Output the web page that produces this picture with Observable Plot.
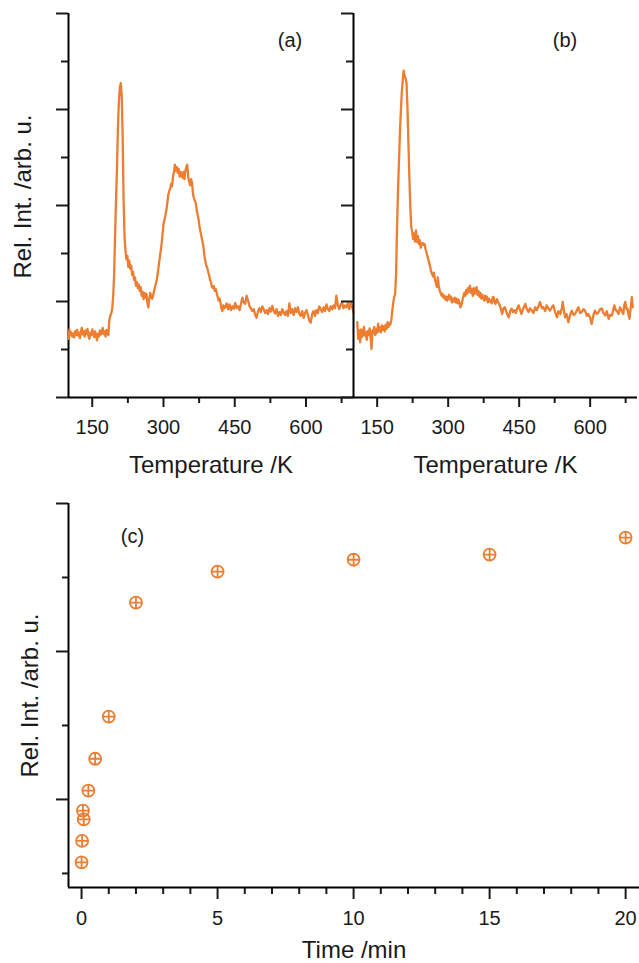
<!DOCTYPE html>
<html><head><meta charset="utf-8">
<script src="https://cdn.jsdelivr.net/npm/d3@7"></script>
<script src="https://cdn.jsdelivr.net/npm/@observablehq/plot@0.6"></script>
<style>
body{margin:0;background:#fff;}
#wrap{position:relative;width:639px;height:963px;overflow:hidden;font-family:"Liberation Sans",Arial,Helvetica,sans-serif;}
#wrap svg{position:absolute;}
</style></head><body><div id="wrap"></div>
<script>
// ---- Panel (a): temperature programmed desorption trace ----
const tempA = [100,102,104,106,108,110,112,114,116,118,120,122,124,126,128,130,132,134,136,138,140,142,144,146,148,150,152,154,156,158,160,162,164,166,168,170,172,174,176,178,180,182,184,186,188,190,192,194,196,198,200,202,204,206,208,210,212,214,216,218,220,222,224,226,228,230,232,234,236,238,240,242,244,246,248,250,252,254,256,258,260,262,264,266,268,270,272,274,276,278,280,282,284,286,288,290,292,294,296,298,300,302,304,306,308,310,312,314,316,318,320,322,324,326,328,330,332,334,336,338,340,342,344,346,348,350,352,354,356,358,360,362,364,366,368,370,372,374,376,378,380,382,384,386,388,390,392,394,396,398,400,402,404,406,408,410,412,414,416,418,420,422,424,426,428,430,433,436,439,442,445,448,451,454,457,460,463,466,469,472,475,478,481,484,487,490,493,496,499,502,505,508,511,514,517,520,523,526,529,532,535,538,541,544,547,550,553,556,559,562,565,568,571,574,577,580,583,586,589,592,595,598,601,604,607,610,613,616,619,622,625,628,631,634,637,640,643,646,649,652,655,658,661,664,667,670,673,676,679,682,685,688,691,694,697,700];
const intA = [1.22,1.42,1.30,1.36,1.27,1.33,1.25,1.38,1.30,1.41,1.29,1.35,1.24,1.37,1.45,1.31,1.38,1.27,1.40,1.32,1.43,1.28,1.22,1.35,1.30,1.42,1.33,1.26,1.38,1.29,1.19,1.33,1.27,1.40,1.31,1.36,1.45,1.32,1.38,1.27,1.41,1.34,1.30,1.62,1.70,1.75,1.85,2.10,2.55,3.34,4.10,4.75,5.60,6.15,6.45,6.55,6.30,5.45,4.10,3.35,3.05,2.88,2.95,2.72,2.85,2.68,2.75,2.55,2.62,2.45,2.50,2.33,2.40,2.28,2.35,2.22,2.30,2.12,2.20,2.05,2.18,2.08,2.16,1.98,1.88,2.05,2.18,2.10,2.06,2.12,2.22,2.30,2.38,2.45,2.60,2.75,2.90,3.05,3.20,3.40,3.62,3.70,3.80,3.90,4.05,4.22,4.30,4.35,4.45,4.40,4.60,4.70,4.85,4.72,4.80,4.68,4.76,4.60,4.70,4.64,4.58,4.70,4.55,4.72,4.80,4.85,4.60,4.50,4.42,4.55,4.48,4.25,4.15,4.10,4.05,3.90,3.80,3.70,3.55,3.45,3.35,3.25,3.15,2.95,2.85,2.75,2.70,2.62,2.55,2.45,2.40,2.30,2.28,2.32,2.22,2.26,2.18,2.10,2.02,2.06,1.98,1.85,1.80,1.92,1.86,1.88,1.96,1.84,1.94,1.82,1.90,1.85,1.97,1.86,1.90,1.82,1.95,2.08,1.98,1.95,2.12,2.02,1.90,1.86,1.80,1.84,1.72,1.66,1.80,1.86,1.78,1.90,1.84,1.76,1.82,1.74,1.86,1.79,1.91,1.80,1.75,1.84,1.70,1.78,1.72,1.84,1.77,1.72,1.80,1.70,1.96,1.76,1.84,1.72,1.86,1.78,1.88,1.74,1.70,1.80,1.66,1.76,1.82,1.72,1.60,1.56,1.74,1.80,1.70,1.82,1.76,1.90,1.84,1.78,1.88,1.80,1.94,1.84,1.80,1.90,1.84,1.92,1.86,2.12,1.92,1.84,1.94,1.98,1.86,1.92,1.88,1.96,1.84,1.98,1.90,1.76];

// ---- Panel (b) ----
const tempB = [108,110,112,114,116,118,120,122,124,126,128,130,132,134,136,138,140,142,144,146,148,150,152,154,156,158,160,162,164,166,168,170,172,174,176,178,180,182,184,186,188,190,192,194,196,198,200,202,204,206,208,210,212,214,216,218,220,222,224,226,228,230,232,234,236,238,240,242,244,246,248,250,252,254,256,258,260,262,264,266,268,270,272,274,276,278,280,282,284,286,288,290,292,294,296,298,300,302,304,306,308,310,312,314,316,318,320,322,324,326,328,330,332,334,336,338,340,342,344,346,348,350,352,354,356,358,360,362,364,366,368,370,372,374,376,378,380,382,384,386,388,390,392,394,396,398,400,403,406,409,412,414,417,420,423,426,428,431,434,437,440,443,446,449,452,455,458,461,463,466,470,473,477,480,484,487,491,494,498,501,505,508,512,515,519,522,526,530,533,537,540,542,545,547,550,554,557,561,565,568,572,575,579,582,586,589,593,596,600,603,607,610,614,618,621,625,628,632,635,639,642,646,649,651,654,656,660,663,667,670,672,674,677,679,681,683,686,688,690];
const intB = [1.57,1.22,1.40,1.15,1.42,1.26,1.33,1.47,1.29,1.36,1.20,1.38,1.30,1.44,1.28,1.01,1.40,1.34,1.47,1.30,1.42,1.35,1.54,1.38,1.46,1.36,1.50,1.41,1.48,1.38,1.52,1.43,1.57,1.47,1.55,1.52,1.62,1.81,1.98,2.09,2.16,2.60,3.55,4.30,4.90,5.50,5.95,6.35,6.60,6.81,6.70,6.65,6.55,6.05,5.30,4.60,3.97,3.55,3.45,3.30,3.42,3.25,3.48,3.24,3.36,3.20,3.28,3.12,3.20,3.22,3.18,3.20,3.10,3.03,2.95,2.88,2.80,2.72,2.62,2.58,2.52,2.60,2.45,2.40,2.30,2.50,2.34,2.23,2.18,2.12,2.16,2.08,2.12,2.04,2.10,2.02,2.08,2.14,2.04,2.10,1.98,2.06,2.00,2.08,1.98,2.06,1.96,2.04,1.96,1.88,1.92,2.02,2.10,2.18,2.12,2.24,2.16,2.28,2.20,2.33,2.18,2.26,2.12,2.28,2.16,2.22,2.30,2.14,2.22,2.10,2.18,2.06,2.14,2.08,2.02,2.12,2.04,2.10,1.98,2.06,2.00,2.02,1.96,2.09,2.09,1.98,1.95,2.05,1.98,1.92,1.82,1.74,1.86,1.88,1.78,1.70,1.67,1.80,1.85,1.78,1.82,1.76,1.86,1.92,1.82,1.74,1.84,1.90,1.95,1.84,1.78,1.86,1.81,1.76,1.88,1.82,1.90,1.99,1.86,1.88,1.80,1.92,1.85,1.81,1.88,1.92,1.78,1.67,1.80,1.74,1.86,1.99,1.78,1.67,1.74,1.57,1.70,1.81,1.72,1.74,1.82,1.88,1.76,1.78,1.84,1.81,1.70,1.74,1.66,1.53,1.72,1.81,1.74,1.78,1.84,1.85,1.76,1.71,1.80,1.64,1.72,1.71,1.84,1.92,1.82,1.81,1.74,1.88,1.80,1.74,1.92,1.99,1.84,1.85,1.72,1.64,1.90,2.09,1.88];

// ---- Panel (c): intensity vs exposure time ----
const timeC = [0, 0.02, 0.08, 0.05, 0.25, 0.5, 1, 2, 5, 10, 15, 20];
const intC = [0.15, 0.44, 0.73, 0.85, 1.12, 1.55, 2.12, 3.66, 4.08, 4.24, 4.31, 4.54];

// ---- ticks & texts ----
const tempMajorTicks = [150, 300, 450, 600];
const tempMinorTicks = [225, 375, 525, 675];
const intMajorTicks = [0, 2, 4, 6, 8];
const intMinorTicks = [1, 3, 5, 7];
const timeMajorTicks = [0, 5, 10, 15, 20];
const timeMinorTicks = [1,2,3,4,6,7,8,9,11,12,13,14,16,17,18,19];
const cMajorTicks = [1, 3, 5];
const cMinorTicks = [0, 2, 4];
const panelLabels = ["(a)", "(b)", "(c)"];
const xTitleTemp = "Temperature /K";
const xTitleTime = "Time /min";
const yTitle = "Rel. Int. /arb. u.";

const tempDomain = [100, 700];
const intDomain = [0, 8];
const timeDomain = [-0.48, 20.51];
const cDomain = [-0.19, 5];

const orange = "#ED7D31";
const ink = "#1a1a1a";
const FONT = "Liberation Sans, Arial, Helvetica, sans-serif";
const svgStyle = `background: transparent; overflow: visible; font-family: ${FONT}; color: ${ink};`;

const circlePlus = {
  draw(ctx, size) {
    const r = Math.sqrt(size / Math.PI);
    ctx.moveTo(r, 0);
    ctx.arc(0, 0, r, 0, 2 * Math.PI);
    ctx.moveTo(-r, 0); ctx.lineTo(r, 0);
    ctx.moveTo(0, -r); ctx.lineTo(0, r);
  }
};

function noText() { return ""; }

function tempPanel(T, I, label, o) {
  const data = T.map((t, i) => ({t, v: I[i]}));
  const marks = [
    Plot.axisY({ticks: intMajorTicks, tickSize: 12, strokeWidth: 2, fill: "none", tickFormat: noText, label: null}),
    Plot.axisY({ticks: intMinorTicks, tickSize: 7, strokeWidth: 2, fill: "none", tickFormat: noText, label: null}),
    Plot.axisX({ticks: tempMajorTicks, tickSize: 10, tickPadding: 12, strokeWidth: 2, fontSize: 20, fill: ink, label: null}),
    Plot.axisX({ticks: tempMinorTicks, tickSize: 6, strokeWidth: 2, fill: "none", tickFormat: noText, label: null}),
    Plot.ruleX([tempDomain[0]], {stroke: "#000", strokeWidth: 2}),
    Plot.ruleY([intDomain[0]], {stroke: "#000", strokeWidth: 2}),
    Plot.line(data, {x: "t", y: "v", stroke: orange, strokeWidth: 2.3, strokeLinejoin: "round"}),
    Plot.text([label], {text: d => d, frameAnchor: "top-left", textAnchor: "middle", lineAnchor: "middle", dx: o.labelDx, dy: 27, fontSize: 20, fill: ink, fontFamily: FONT}),
    Plot.text([xTitleTemp], {text: d => d, frameAnchor: "bottom", textAnchor: "middle", lineAnchor: "middle", dy: 68, fontSize: 24, fill: ink, fontFamily: FONT})
  ];
  if (o.yTitle) marks.push(
    Plot.text([yTitle], {text: d => d, frameAnchor: "left", textAnchor: "middle", lineAnchor: "middle", rotate: -90, dx: -45, dy: -9, fontSize: 24, fill: ink, fontFamily: FONT})
  );
  const svg = Plot.plot({
    width: o.width, height: 480,
    marginLeft: o.ml, marginRight: o.mr, marginTop: 13, marginBottom: 83,
    x: {domain: tempDomain},
    y: {domain: intDomain},
    style: svgStyle,
    marks
  });
  svg.style.left = o.left + "px";
  svg.style.top = "0px";
  return svg;
}

const wrap = document.getElementById("wrap");
wrap.appendChild(tempPanel(tempA, intA, panelLabels[0], {width: 360, ml: 68, mr: 7, left: 0, labelDx: 221.5, yTitle: true}));
wrap.appendChild(tempPanel(tempB, intB, panelLabels[1], {width: 339, ml: 53, mr: 2, left: 300, labelDx: 211.5, yTitle: false}));

const dataC = timeC.map((t, i) => ({t, v: intC[i]}));
const svgC = Plot.plot({
  width: 639, height: 483,
  marginLeft: 68, marginRight: 0, marginTop: 23, marginBottom: 76,
  x: {domain: timeDomain},
  y: {domain: cDomain},
  style: svgStyle,
  marks: [
    Plot.axisY({ticks: cMajorTicks, tickSize: 12, strokeWidth: 2, fill: "none", tickFormat: noText, label: null}),
    Plot.axisY({ticks: cMinorTicks, tickSize: 6, strokeWidth: 2, fill: "none", tickFormat: noText, label: null}),
    Plot.axisX({ticks: timeMajorTicks, tickSize: 12, tickPadding: 11, strokeWidth: 2, fontSize: 20, fill: ink, label: null}),
    Plot.axisX({ticks: timeMinorTicks, tickSize: 7, strokeWidth: 2, fill: "none", tickFormat: noText, label: null}),
    Plot.ruleX([timeDomain[0]], {stroke: "#000", strokeWidth: 2}),
    Plot.ruleY([cDomain[0]], {stroke: "#000", strokeWidth: 2}),
    Plot.dot(dataC, {x: "t", y: "v", r: 6, symbol: circlePlus, stroke: orange, strokeWidth: 1.8, fill: "none"}),
    Plot.text([panelLabels[2]], {text: d => d, frameAnchor: "top-left", textAnchor: "middle", lineAnchor: "middle", dx: 64, dy: 33, fontSize: 20, fill: ink, fontFamily: FONT}),
    Plot.text([xTitleTime], {text: d => d, frameAnchor: "bottom", textAnchor: "middle", lineAnchor: "middle", dy: 63, fontSize: 24, fill: ink, fontFamily: FONT}),
    Plot.text([yTitle], {text: d => d, frameAnchor: "left", textAnchor: "middle", lineAnchor: "middle", rotate: -90, dx: -38.5, fontSize: 24, fill: ink, fontFamily: FONT})
  ]
});
svgC.style.left = "0px";
svgC.style.top = "480px";
wrap.appendChild(svgC);
</script>
</body></html>
